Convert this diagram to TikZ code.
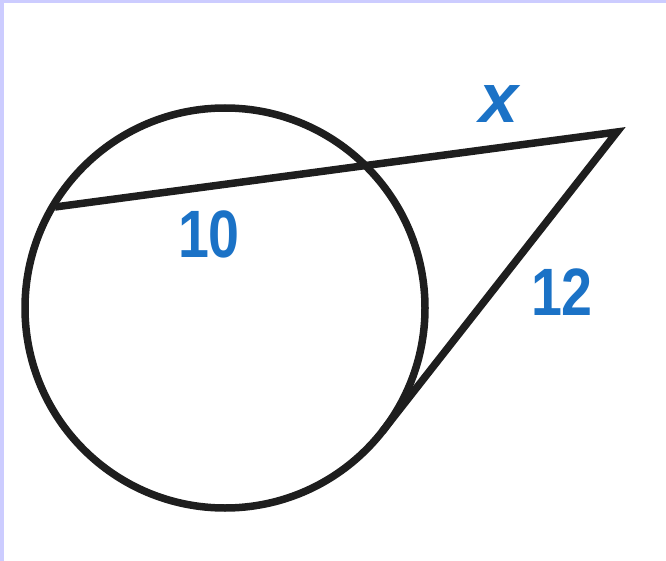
\documentclass[tikz,border=0pt]{standalone}
\usepackage{fontspec}
\setmainfont{Liberation Sans}
\newfontfamily\lblfont{Liberation Sans}[FakeStretch=0.83]
\usetikzlibrary{calc}
\definecolor{Ink}{HTML}{1E1E1E}
\definecolor{Label}{HTML}{1B72C6}
\definecolor{Frame}{HTML}{CCCCFF}

\begin{document}
\begin{tikzpicture}[x=1pt,y=-1pt,
    figline/.style={Ink,line width=7.5pt,line join=miter},
    lbl/.style={font=\lblfont\bfseries\fontsize{67}{70}\selectfont,text=Label,inner sep=0pt}]
        \useasboundingbox (0,0) rectangle (666,561);
        \fill[Frame] (0,0) rectangle (666,3);
        \fill[Frame] (0,0) rectangle (4,561);
        \coordinate (ctr) at (225,308);
        \coordinate (tip) at (617,132);
        \coordinate (near) at (55,207);
        \coordinate (touch) at (382.4,431.4);
        \draw[figline] (ctr) circle[radius=200];
        \draw[figline] (near) -- (tip) -- (touch);
        \node[lbl] (ten) at (209,234) {10};
        \node[lbl] (twelve) at (562,292) {12};
        \node[lbl,font=\bfseries\itshape\fontsize{70}{72}\selectfont] (ex) at (499,104) {x};
      \end{tikzpicture}
\end{document}
